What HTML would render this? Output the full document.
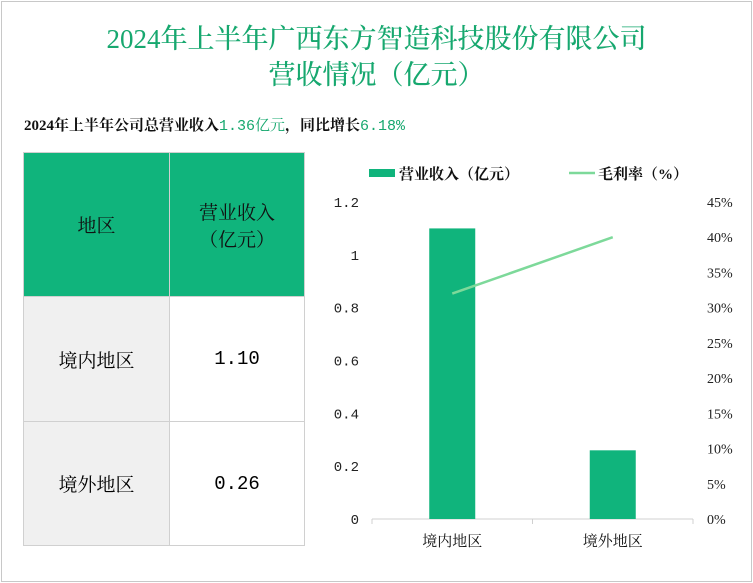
<!DOCTYPE html>
<html><head><meta charset="utf-8">
<style>
body{margin:0;width:753px;height:583px;background:#fff;position:relative;overflow:hidden;font-family:"Liberation Serif","Noto Serif CJK SC",serif;}
#frame{position:absolute;left:1px;top:1px;width:749px;height:579px;border:1px solid #c8c8c8;}
.t{position:absolute;left:0;width:753px;text-align:center;color:#17a86f;font-size:27px;line-height:34px;font-weight:500;}
#sub{position:absolute;left:24px;top:114px;font-size:15px;color:#111;font-weight:bold;}
#sub span{color:#17a86f;font-family:"Liberation Mono","Noto Serif CJK SC",monospace;font-weight:normal;}
table{position:absolute;left:23px;top:152px;border-collapse:collapse;font-size:19px;}
td{border:1px solid #d0d0d0;text-align:center;vertical-align:middle;padding:0;}
.h td{background:#10b47c;color:#111;height:143px;}
.r1{background:#f0f0f0}
.num{font-family:"Liberation Mono",monospace;}
</style></head><body>
<div id="frame"></div>
<div class="t" style="top:22px">2024年上半年广西东方智造科技股份有限公司</div>
<div class="t" style="top:58px">营收情况（亿元）</div>
<div id="sub">2024年上半年公司总营业收入<span>1.36亿元</span>，同比增长<span>6.18%</span></div>
<table>
<tr class="h"><td style="width:145px">地区</td><td style="width:134px">营业收入<br>（亿元）</td></tr>
<tr><td class="r1" style="height:124px">境内地区</td><td class="num">1.10</td></tr>
<tr><td class="r1" style="height:123px">境外地区</td><td class="num">0.26</td></tr>
</table>
<svg id="chart" width="753" height="583" style="position:absolute;left:0;top:0"></svg>
<script>
const categories=["境内地区","境外地区"];
const revenue=[1.10,0.26];
const margin=[32,40];
const leftTicks=["0","0.2","0.4","0.6","0.8","1","1.2"];
const rightTicks=["0%","5%","10%","15%","20%","25%","30%","35%","40%","45%"];
const svg=document.getElementById('chart');
const NS="http://www.w3.org/2000/svg";
const x0=372,x1=693,yb=519,yt=202;
const yL=v=>yb-(yb-yt)*v/1.2;
const yR=v=>yb-(yb-yt)*v/45;
const band=(x1-x0)/categories.length;
const xc=i=>x0+band*(i+0.5);
function mk(tag,attrs,txt){const e=document.createElementNS(NS,tag);for(const k in attrs)e.setAttribute(k,attrs[k]);if(txt!=null)e.textContent=txt;svg.appendChild(e);return e;}
const f='"Liberation Serif","Noto Serif CJK SC",serif';
const fm='"Liberation Mono",monospace';
let ax=mk('line',{x1:x0,y1:yb,x2:x1,y2:yb,stroke:'#d0d0d0'});


for(let i=0;i<=categories.length;i++){let t=mk('line',{x1:x0+band*i,y1:yb,x2:x0+band*i,y2:yb+5,stroke:'#d0d0d0'});

}
leftTicks.forEach((s,i)=>{let t=mk('text',{x:359,y:yL(i*0.2)+5,'text-anchor':'end','font-size':14,'font-family':fm,fill:'#222'},s);

});
rightTicks.forEach((s,i)=>{let t=mk('text',{x:707,y:yR(i*5)+5,'font-size':14,'font-family':f,fill:'#222'},s);

});
categories.forEach((c,i)=>{
let b=mk('rect',{x:xc(i)-23,y:yL(revenue[i]),width:46,height:yb-yL(revenue[i]),fill:'#10b47c'});


let t=mk('text',{x:xc(i),y:546,'text-anchor':'middle','font-size':15,'font-family':f,fill:'#111'},c);

});
let ln=mk('polyline',{points:margin.map((m,i)=>xc(i)+','+yR(m)).join(' '),fill:'none',stroke:'#7dd99a','stroke-width':2.5});


let l1=mk('rect',{x:369,y:169,width:26,height:8,fill:'#10b47c'});


let l2=mk('text',{x:399,y:179,'font-size':15,'font-weight':'bold','font-family':f,fill:'#111'},'营业收入（亿元）');


let l3=mk('line',{x1:569,y1:173,x2:595,y2:173,stroke:'#7dd99a','stroke-width':2.5});


let l4=mk('text',{x:598,y:179,'font-size':15,'font-weight':'bold','font-family':f,fill:'#111'},'毛利率（%）');


</script>
</body></html>
